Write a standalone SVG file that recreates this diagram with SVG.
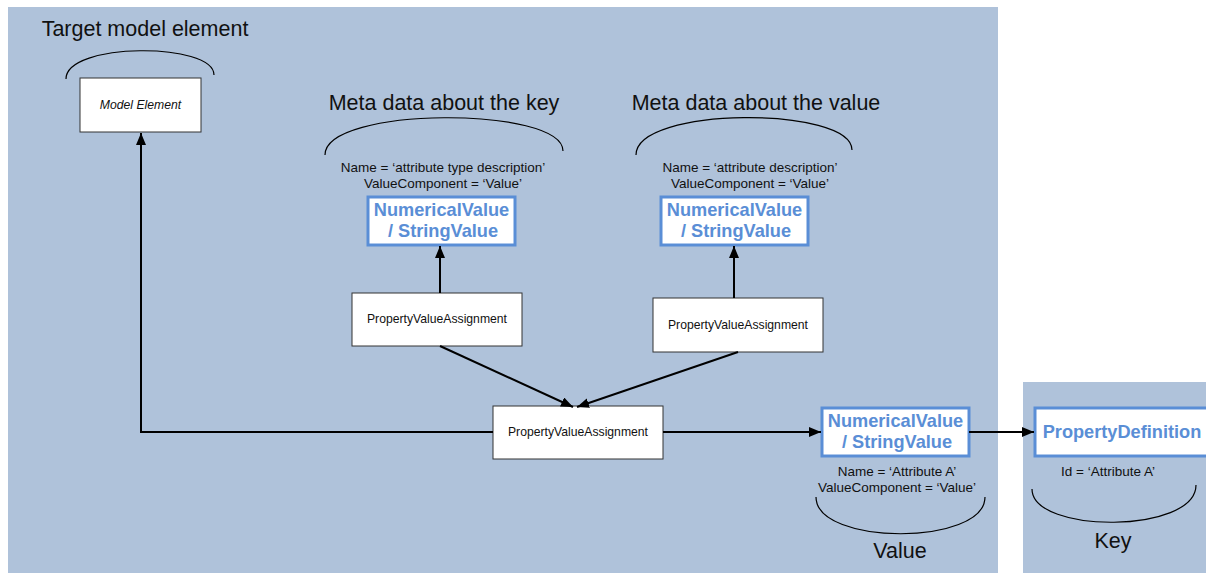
<svg xmlns="http://www.w3.org/2000/svg" width="1206" height="574" viewBox="0 0 1206 574">
<defs>
<marker id="arr" viewBox="0 0 12 10" refX="12" refY="5" markerWidth="12" markerHeight="10" markerUnits="userSpaceOnUse" orient="auto">
<path d="M0,0 L12,5 L0,10 Z" fill="#000"/>
</marker>
<style>
.panel{fill:#AFC2DA;stroke:none}
.box{fill:#fff;stroke:#333;stroke-width:1}
.vbox{fill:#fff;stroke:#5A8ED6;stroke-width:3}
.t{font-family:"Liberation Sans",Arial,sans-serif;fill:#111;text-anchor:middle}
.title{font-size:21.5px}
.small{font-size:13.5px}
.pva{font-size:12.2px}
.blue{font-family:"Liberation Sans",Arial,sans-serif;font-weight:bold;font-size:18.2px;fill:#5A8ED6;text-anchor:middle}
.arc{fill:none;stroke:#000;stroke-width:1.2}
.conn{fill:none;stroke:#000;stroke-width:2;marker-end:url(#arr)}
</style>
</defs>
<rect width="1206" height="574" fill="#fff"/>
<rect class="panel" x="8" y="7" width="990" height="566"/>
<rect class="panel" x="1023" y="382" width="183" height="191"/>

<g id="target-label">
<text class="t title" x="145" y="36">Target model element</text>
<path class="arc" d="M66,79 C66,42 214,42 214,75"/>
</g>
<g id="model-element">
<rect class="box" x="80" y="78" width="121" height="54"/>
<text class="t pva" x="140.5" y="109" font-style="italic">Model Element</text>
</g>

<g id="key-meta-label">
<text class="t title" x="444" y="110">Meta data about the key</text>
<path class="arc" d="M325,155 C325,106 563,106 563,151"/>
<text class="t small" x="443" y="172">Name = ‘attribute type description’</text>
<text class="t small" x="443" y="188">ValueComponent = ‘Value’</text>
</g>
<g id="nv-key">
<rect class="vbox" x="368" y="197" width="147" height="48"/>
<text class="blue" x="441.5" y="216">NumericalValue</text>
<text class="blue" x="443" y="237">/ StringValue</text>
</g>

<g id="value-meta-label">
<text class="t title" x="756" y="110">Meta data about the value</text>
<path class="arc" d="M636,155 C636,106 852,106 852,150"/>
<text class="t small" x="750" y="172">Name = ‘attribute description’</text>
<text class="t small" x="750" y="188">ValueComponent = ‘Value’</text>
</g>
<g id="nv-value">
<rect class="vbox" x="661" y="197" width="147" height="48"/>
<text class="blue" x="734.5" y="216">NumericalValue</text>
<text class="blue" x="736" y="237">/ StringValue</text>
</g>

<g id="pva-key">
<rect class="box" x="352" y="293" width="170" height="53"/>
<text class="t pva" x="437" y="323">PropertyValueAssignment</text>
</g>
<g id="pva-value">
<rect class="box" x="653" y="298" width="170" height="54"/>
<text class="t pva" x="738" y="329">PropertyValueAssignment</text>
</g>
<g id="pva-main">
<rect class="box" x="493" y="406" width="170" height="53"/>
<text class="t pva" x="578" y="436">PropertyValueAssignment</text>
</g>

<g id="nv-attr">
<rect class="vbox" x="822" y="408" width="147" height="48"/>
<text class="blue" x="895.5" y="427">NumericalValue</text>
<text class="blue" x="897" y="448">/ StringValue</text>
<text class="t small" x="897" y="476">Name = ‘Attribute A’</text>
<text class="t small" x="897" y="492">ValueComponent = ‘Value’</text>
<path class="arc" d="M816,497 C816,546 985,546 985,497"/>
<text class="t title" x="900" y="558">Value</text>
</g>

<g id="property-definition">
<rect class="vbox" x="1035" y="408" width="173" height="48"/>
<text class="blue" x="1122" y="438">PropertyDefinition</text>
<text class="t small" x="1108" y="476">Id = ‘Attribute A’</text>
<path class="arc" d="M1032,489 C1032,534 1196,534 1196,485"/>
<text class="t title" x="1113" y="548">Key</text>
</g>

<g id="connectors">
<path class="conn" d="M493,432 L141,432 L141,133"/>
<path class="conn" d="M440,293 L440,246"/>
<path class="conn" d="M734,298 L734,246"/>
<path class="conn" d="M440,346 L573,407"/>
<path class="conn" d="M738,352 L577,407"/>
<path class="conn" d="M663,432 L821,432"/>
<path class="conn" d="M969,432 L1034,432"/>
</g>
</svg>
